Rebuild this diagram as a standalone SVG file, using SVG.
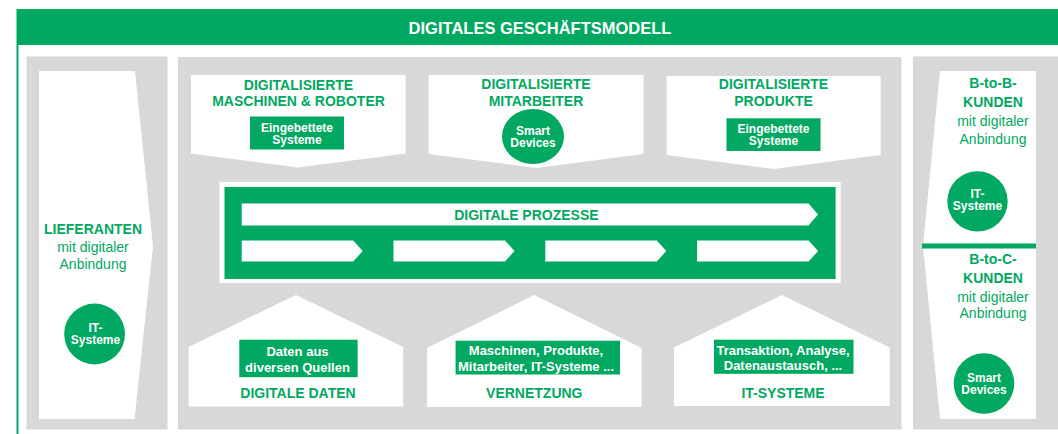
<svg xmlns="http://www.w3.org/2000/svg" width="1058" height="434" viewBox="0 0 1058 434">
<style>
text{font-family:"Liberation Sans",Arial,sans-serif;text-anchor:middle}
.g{fill:#00a862}
.gr{fill:#d7d8d7}
.w{fill:#ffffff}
.h{font-size:14px;font-weight:bold;fill:#00a862}
.r{font-size:14px;fill:#00a862}
.s{font-size:12px;font-weight:bold;fill:#ffffff}
.m{font-size:13px;font-weight:bold;fill:#ffffff}
</style>
<rect x="0" y="0" width="1058" height="434" fill="#ffffff"/>
<g id="frame">
<rect class="g" x="17" y="9" width="1045" height="36"/>
<rect class="g" x="16.5" y="9" width="2" height="425"/>
<text x="540" y="33.8" style="font-size:16.5px;font-weight:bold;fill:#ffffff">DIGITALES GESCHÄFTSMODELL</text>
</g>
<g id="panels">
<rect class="gr" x="26.5" y="56.5" width="141" height="373"/>
<rect class="gr" x="178" y="57" width="723.5" height="372.5"/>
<rect class="gr" x="913" y="56.5" width="150" height="373"/>
</g>
<g id="lieferanten">
<polygon class="w" points="39,71 135,71 153,246 134.5,419 39,419"/>
<text class="h" x="93" y="233.8">LIEFERANTEN</text>
<text class="r" x="93" y="252">mit digitaler</text>
<text class="r" x="93" y="269">Anbindung</text>
<circle class="g" cx="94.6" cy="334" r="30.4"/>
<text class="s" x="95.5" y="332">IT-</text>
<text class="s" x="95.5" y="344">Systeme</text>
</g>
<g id="maschinen">
<polygon class="w" points="191,75 405.6,75 405.6,153.5 298,167.5 191,153.5"/>
<text class="h" x="298.5" y="89.5">DIGITALISIERTE</text>
<text class="h" x="298.5" y="106">MASCHINEN &amp; ROBOTER</text>
<rect class="g" x="250" y="116.5" width="94" height="33"/>
<text class="s" x="297" y="132">Eingebettete</text>
<text class="s" x="297" y="144">Systeme</text>
</g>
<g id="mitarbeiter">
<polygon class="w" points="428.6,75 643.5,75 643.5,154 536,168 428.6,154"/>
<text class="h" x="536" y="89">DIGITALISIERTE</text>
<text class="h" x="536" y="106">MITARBEITER</text>
<ellipse class="g" cx="533" cy="136.5" rx="31" ry="27.5"/>
<text class="s" x="533" y="135">Smart</text>
<text class="s" x="533" y="147">Devices</text>
</g>
<g id="produkte">
<polygon class="w" points="666.6,76 880.6,76 880.6,155 773.5,169 666.6,155"/>
<text class="h" x="773.5" y="89">DIGITALISIERTE</text>
<text class="h" x="773.5" y="106">PRODUKTE</text>
<rect class="g" x="726.5" y="118.3" width="94" height="32.7"/>
<text class="s" x="773.5" y="132.5">Eingebettete</text>
<text class="s" x="773.5" y="144.5">Systeme</text>
</g>
<g id="prozesse">
<rect class="w" x="219.5" y="182" width="621.2" height="101"/>
<rect class="g" x="224.5" y="187" width="611.1" height="92"/>
<polygon class="w" points="241.7,203.5 808.5,203.5 818,214.5 808.5,225.5 241.7,225.5"/>
<text class="h" x="526.4" y="220">DIGITALE PROZESSE</text>
<polygon class="w" points="241.7,240.5 353.2,240.5 362.7,251 353.2,261.5 241.7,261.5"/>
<polygon class="w" points="393.5,240.5 505,240.5 514.5,251 505,261.5 393.5,261.5"/>
<polygon class="w" points="545.3,240.5 656.8,240.5 666.3,251 656.8,261.5 545.3,261.5"/>
<polygon class="w" points="697.1,240.5 808.6,240.5 818.1,251 808.6,261.5 697.1,261.5"/>
</g>
<g id="daten">
<polygon class="w" points="188.6,406.5 188.6,347 296,295 403.2,347 403.2,406.5"/>
<rect class="g" x="239.3" y="339.7" width="118.3" height="37.5"/>
<text class="m" x="297.5" y="355.5">Daten aus</text>
<text class="m" x="297.5" y="371.5">diversen Quellen</text>
<text class="h" x="298" y="398">DIGITALE DATEN</text>
</g>
<g id="vernetzung">
<polygon class="w" points="427,407 427,348 534.3,295 641.6,348 641.6,407"/>
<rect class="g" x="455.6" y="340.7" width="164.4" height="33.8"/>
<text class="m" x="536" y="354.5">Maschinen, Produkte,</text>
<text class="m" x="536" y="370.5">Mitarbeiter, IT-Systeme ...</text>
<text class="h" x="534.3" y="398">VERNETZUNG</text>
</g>
<g id="itsysteme">
<polygon class="w" points="674,406 674,347.5 781.9,295 889.7,347.5 889.7,406"/>
<rect class="g" x="714" y="339.7" width="139.5" height="34.1"/>
<text class="m" x="783" y="354.5">Transaktion, Analyse,</text>
<text class="m" x="783" y="369.5">Datenaustausch, ...</text>
<text class="h" x="783" y="397.5">IT-SYSTEME</text>
</g>
<g id="kunden">
<polygon class="w" points="940,71 1036,71 1036,419 940,419 923,246"/>
<rect class="g" x="922" y="243.5" width="114" height="5"/>
<text class="h" x="993" y="88.3">B-to-B-</text>
<text class="h" x="993" y="107">KUNDEN</text>
<text class="r" x="993" y="125.5">mit digitaler</text>
<text class="r" x="993" y="143.5">Anbindung</text>
<circle class="g" cx="977.5" cy="201.4" r="30.2"/>
<text class="s" x="977.5" y="198">IT-</text>
<text class="s" x="977.5" y="210">Systeme</text>
<text class="h" x="993" y="263.8">B-to-C-</text>
<text class="h" x="993" y="282.8">KUNDEN</text>
<text class="r" x="993" y="301.5">mit digitaler</text>
<text class="r" x="993" y="317.5">Anbindung</text>
<circle class="g" cx="984" cy="383.5" r="30.3"/>
<text class="s" x="984" y="381.5">Smart</text>
<text class="s" x="984" y="393.5">Devices</text>
</g>
</svg>
